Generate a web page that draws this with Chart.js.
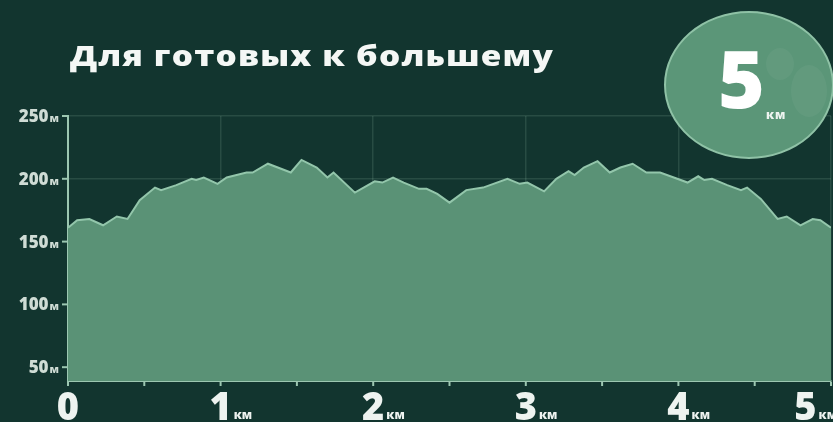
<!DOCTYPE html>
<html>
<head>
<meta charset="utf-8">
<script src="https://cdn.jsdelivr.net/npm/chart.js@4"></script>
<style>
	html, body { margin: 0; padding: 0; background: #12352f; overflow: hidden; }
	#wrap { position: relative; width: 833px; height: 422px; }
	#chart { position: absolute; left: 0; top: 0; }
	#title {
		position: absolute; left: 70px; top: 40px; color: #f4f7f5;
		font: 800 28px "Open Sans", sans-serif; white-space: nowrap; line-height: 30px;
		letter-spacing: 1px; transform-origin: 0 50%;
	}
	#badge {
		position: absolute; left: 664px; top: 11px; width: 166px; height: 144px;
		border-radius: 50%; background: #5b9678; border: 2px solid #8fc2a6; overflow: hidden;
	}
	.blob { position: absolute; border-radius: 50%; background: rgba(255,255,255,0.045); }
	#badge .num {
		position: absolute; left: 52px; top: 14px; color: #fff;
		font: 800 80px "Open Sans", sans-serif; line-height: 100px;
	}
	#badge .unit {
		position: absolute; left: 100px; top: 96px; color: #eef4f0;
		font: 800 12px "Open Sans", sans-serif; letter-spacing: 1px; line-height: 12px;
	}
</style>
</head>
<body>
<div id="wrap">
	<canvas id="chart" width="833" height="422"></canvas>
	<div id="title">Для готовых к большему</div>
	<div id="badge">
		<div class="blob" style="left:100px;top:35px;width:28px;height:32px;"></div>
		<div class="blob" style="left:125px;top:52px;width:36px;height:52px;"></div>
		<div class="num">5</div>
		<div class="unit">км</div>
	</div>
</div>
<script>
// profile: distance (km) and elevation (m)
const distKm = [0.00, 0.06, 0.14, 0.23, 0.32, 0.39, 0.47, 0.57, 0.61, 0.71, 0.81, 0.84, 0.89, 0.98,
	1.04, 1.17, 1.21, 1.31, 1.46, 1.53, 1.63, 1.70, 1.74, 1.88, 2.01, 2.06, 2.13, 2.20, 2.30, 2.35,
	2.42, 2.50, 2.61, 2.72, 2.88, 2.96, 3.01, 3.12, 3.20, 3.28, 3.32, 3.38, 3.47, 3.55, 3.62, 3.70,
	3.79, 3.88, 3.97, 4.06, 4.13, 4.17, 4.22, 4.32, 4.41, 4.45, 4.54, 4.65, 4.71, 4.80, 4.88, 4.93, 5.00];
const elevM = [161, 167, 168, 163, 170, 168, 183, 193, 191, 195, 200, 199, 201, 196,
	201, 205, 205, 212, 205, 215, 209, 201, 205, 189, 198, 197, 201, 197, 192, 192,
	188, 181, 191, 193, 200, 196, 197, 190, 200, 206, 203, 209, 214, 205, 209, 212,
	205, 205, 201, 197, 202, 199, 200, 195, 191, 193, 184, 168, 170, 163, 168, 167, 161];
const xTicks = [0, 1, 2, 3, 4, 5];
const yTicks = [50, 100, 150, 200, 250];
const xUnit = 'км';
const yUnit = 'м';

// stretch the title to the width it has in the picture
(function ()
{
	const t = document.getElementById('title');
	const w = t.getBoundingClientRect().width;
	t.style.transform = 'scaleX(' + (484 / w) + ')';
})();

const labelPlugin = {
	id: 'labels',
	afterDraw (chart)
	{
		const ctx = chart.ctx;
		const xs = chart.scales.x;
		const ys = chart.scales.y;
		const area = chart.chartArea;
		ctx.save();
		ctx.strokeStyle = '#9cc7b1';
		ctx.lineWidth = 2;
		// y ticks and labels
		yTicks.forEach(v => {
			const y = ys.getPixelForValue(v);
			ctx.beginPath();
			ctx.moveTo(area.left - 6, y);
			ctx.lineTo(area.left - 1, y);
			ctx.stroke();
			ctx.font = '800 11px "Open Sans", sans-serif';
			const uw = ctx.measureText(yUnit).width;
			ctx.fillStyle = '#cfdcd5';
			ctx.textBaseline = 'alphabetic';
			ctx.textAlign = 'right';
			ctx.fillText(yUnit, area.left - 9, y + 6);
			ctx.font = '800 17px "Open Sans", sans-serif';
			ctx.fillText(String(v), area.left - 10 - uw, y + 6);
		});
		// minor x ticks every half km
		for (let k = 0; k <= 10; k++) {
			const x = xs.getPixelForValue(k / 2);
			ctx.beginPath();
			ctx.moveTo(x, area.bottom + 1);
			ctx.lineTo(x, area.bottom + 5);
			ctx.stroke();
		}
		// x labels
		xTicks.forEach(v => {
			const x = xs.getPixelForValue(v);
			ctx.font = '800 38px "Open Sans", sans-serif';
			const dw = ctx.measureText(String(v)).width;
			ctx.font = '800 12px "Open Sans", sans-serif';
			const uw = v === 0 ? 0 : ctx.measureText(xUnit).width + 2;
			let left = x - dw / 2;
			if (left + dw + uw > chart.width + 4) left = chart.width + 4 - dw - uw;
			ctx.fillStyle = '#eef3f0';
			ctx.textAlign = 'left';
			ctx.font = '800 38px "Open Sans", sans-serif';
			ctx.fillText(String(v), left, 420);
			if (v !== 0) {
				ctx.font = '800 12px "Open Sans", sans-serif';
				ctx.fillText(xUnit, left + dw + 2, 419);
			}
		});
		ctx.restore();
	}
};

const ctx = document.getElementById('chart').getContext('2d');
new Chart(ctx, {
	type: 'line',
	data: {
		datasets: [{
			data: distKm.map((d, i) => ({ x: d, y: elevM[i] })),
			fill: 'start',
			backgroundColor: '#5a9276',
			borderColor: '#93c6ab',
			borderWidth: 2,
			pointRadius: 0,
			tension: 0
		}]
	},
	options: {
		responsive: false,
		animation: false,
		layout: { padding: { left: 68, top: 116, right: 2, bottom: 41 } },
		plugins: { legend: { display: false }, tooltip: { enabled: false } },
		scales: {
			x: {
				type: 'linear', min: 0, max: 5, z: 1,
				ticks: { display: false, stepSize: 1 },
				grid: { color: 'rgba(190,230,210,0.13)', lineWidth: 1.5, drawTicks: false },
				border: { color: '#9cc7b1', width: 2 }
			},
			y: {
				min: 39, max: 250, z: 1,
				ticks: { display: false, stepSize: 50 },
				grid: { color: 'rgba(190,230,210,0.13)', lineWidth: 1.5, drawTicks: false },
				border: { color: '#9cc7b1', width: 2 }
			}
		}
	},
	plugins: [labelPlugin]
});
</script>
</body>
</html>
